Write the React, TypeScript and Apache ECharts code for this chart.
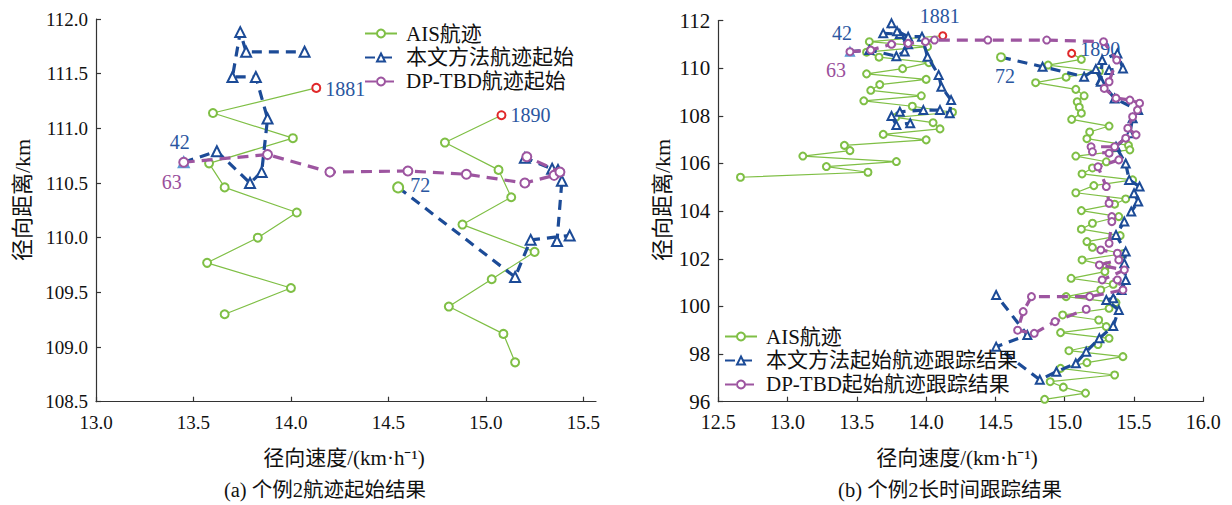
import React, { useEffect, useRef } from "react";
import * as echarts from "echarts";

const FONT = "'Liberation Serif', 'Noto Sans CJK SC', serif";
const GREEN = "#7fbf45";
const BLUE = "#1c4b97";
const LIGHT_BLUE = "#5b9bd5";
const PURPLE = "#9d55a0";
const RED = "#e0282a";
const LABEL_BLUE = "#2a56a0";
const LABEL_PURPLE = "#9a4f9c";

type P = [number, number];

// ---- (a) 个例2航迹起始结果 ----
const aisA1: P[] = [[14.13, 111.37], [13.6, 111.14], [14.01, 110.91], [13.58, 110.68], [13.66, 110.46], [14.03, 110.23], [13.83, 110.0], [13.57, 109.77], [14.0, 109.54], [13.66, 109.3]];
const aisA2: P[] = [[15.08, 111.12], [14.79, 110.87], [15.065, 110.62], [15.13, 110.37], [14.88, 110.12], [15.25, 109.87], [15.03, 109.62], [14.81, 109.37], [15.09, 109.12], [15.15, 108.86]];
const ourA1: P[] = [[13.45, 110.69], [13.62, 110.79], [13.79, 110.5], [13.85, 110.6], [13.88, 111.09], [13.82, 111.47], [13.7, 111.47], [13.74, 111.88], [13.77, 111.7], [14.07, 111.7]];
const ourA2: P[] = [[14.55, 110.46], [15.15, 109.64], [15.23, 109.98], [15.43, 110.02], [15.365, 109.97], [15.39, 110.52], [15.37, 110.62], [15.34, 110.63], [15.2, 110.73]];
const dpA: P[] = [[13.45, 110.69], [13.88, 110.76], [14.2, 110.6], [14.6, 110.61], [14.9, 110.58], [15.2, 110.5], [15.35, 110.57], [15.38, 110.6], [15.21, 110.74]];

// ---- (b) 个例2长时间跟踪结果 ----
const aisB1: P[] = [[14.12, 111.36], [13.59, 111.11], [14.01, 110.9], [13.57, 110.67], [13.66, 110.46], [14.02, 110.23], [13.83, 109.98], [13.57, 109.76], [14.0, 109.53], [13.665, 109.31], [13.6, 109.07], [13.965, 108.84], [13.55, 108.63], [13.9, 108.4], [14.19, 108.15], [13.78, 107.93], [14.05, 107.71], [14.1, 107.45], [13.69, 107.22], [14.0, 106.99], [13.41, 106.76], [13.45, 106.54], [13.11, 106.31], [13.785, 106.08], [13.28, 105.87], [13.58, 105.63], [12.66, 105.42]];
const aisB2: P[] = [[15.05, 110.62], [15.12, 110.37], [14.88, 110.13], [15.25, 109.87], [15.01, 109.62], [14.79, 109.39], [15.08, 109.11], [15.14, 108.84], [15.09, 108.59], [15.105, 108.36], [15.12, 108.11], [15.05, 107.85], [15.32, 107.57], [15.18, 107.32], [15.16, 107.04], [15.46, 106.76], [15.47, 106.57], [15.08, 106.31], [15.3, 106.07], [15.2, 105.81], [15.125, 105.56], [15.49, 105.31], [15.21, 105.07], [15.08, 104.77], [15.44, 104.51], [15.36, 104.29], [15.12, 104.02], [15.39, 103.77], [15.2, 103.49], [15.12, 103.24], [15.4, 102.97], [15.16, 102.72], [15.2, 102.48], [15.42, 102.21], [15.125, 101.95], [15.3, 101.7], [15.29, 101.46], [15.046, 101.18], [15.35, 100.93], [15.26, 100.69], [15.01, 100.41], [15.37, 100.16], [15.32, 99.92], [14.985, 99.64], [15.245, 99.43], [15.3, 99.15], [14.97, 98.9], [15.32, 98.66], [15.24, 98.4], [15.03, 98.14], [15.42, 97.89], [15.16, 97.64], [14.97, 97.4], [15.36, 97.12], [14.895, 96.84], [14.99, 96.61], [15.15, 96.36], [14.855, 96.1]];
const ourB1: P[] = [[13.45, 110.69], [13.59, 110.76], [13.785, 110.5], [13.845, 110.7], [13.87, 111.0], [13.81, 111.43], [13.69, 111.46], [13.75, 111.88], [13.79, 111.55], [13.87, 111.32], [13.97, 111.32], [14.01, 110.48], [14.09, 109.71], [14.11, 109.22], [14.18, 108.66], [14.17, 108.11], [14.1, 108.24], [13.98, 108.24], [13.81, 108.17], [13.75, 107.99], [13.785, 107.61], [13.885, 107.69]];
const ourB2: P[] = [[14.54, 110.46], [14.84, 110.06], [15.14, 109.64], [15.225, 109.96], [15.26, 109.5], [15.32, 109.92], [15.42, 109.99], [15.38, 110.62], [15.27, 110.34], [15.26, 109.43], [15.36, 108.73], [15.53, 108.24], [15.49, 107.9], [15.47, 107.27], [15.37, 106.7], [15.44, 106.0], [15.465, 105.31], [15.54, 105.03], [15.5, 104.75], [15.53, 104.4], [15.48, 103.98], [15.43, 103.56], [15.37, 103.0], [15.44, 102.3], [15.43, 101.81], [15.44, 101.11], [15.41, 100.69], [15.35, 100.34], [15.3, 100.27], [15.39, 99.85], [15.35, 99.18], [15.25, 98.66], [15.155, 98.1], [15.08, 97.61], [14.94, 97.26], [14.82, 96.92], [14.505, 98.31], [14.73, 98.8], [14.505, 100.48]];
const dpB: P[] = [[13.45, 110.69], [13.6, 110.76], [13.75, 111.0], [13.87, 111.04], [13.995, 111.11], [14.06, 111.18], [14.445, 111.18], [14.87, 111.18], [15.28, 111.11], [15.375, 110.34], [15.32, 109.43], [15.285, 109.15], [15.37, 108.74], [15.47, 108.66], [15.54, 108.53], [15.525, 108.24], [15.49, 107.96], [15.455, 107.48], [15.515, 107.2], [15.44, 107.06], [15.36, 106.7], [15.19, 106.7], [15.2, 106.49], [15.32, 106.43], [15.39, 106.15], [15.24, 105.86], [15.3, 105.03], [15.32, 104.33], [15.34, 103.77], [15.34, 103.56], [15.32, 102.65], [15.26, 102.37], [15.38, 102.23], [15.39, 101.95], [15.25, 101.74], [15.43, 101.53], [15.27, 101.11], [15.38, 101.11], [15.42, 100.69], [15.18, 100.41], [14.76, 100.41], [14.7, 99.78], [14.66, 99.0], [14.78, 98.87], [14.93, 99.36], [15.155, 99.88]];

const xTicksA = [13.0, 13.5, 14.0, 14.5, 15.0, 15.5];

const NAME_AIS = "AIS航迹";
const NAMES_A = [NAME_AIS, "本文方法航迹起始", "DP-TBD航迹起始"];
const NAMES_B = [NAME_AIS, "本文方法起始航迹跟踪结果", "DP-TBD起始航迹跟踪结果"];

const tag = (text: string, position: string, offset: number[], color = LABEL_BLUE) => ({
  show: true,
  formatter: text,
  position,
  offset,
  distance: 4,
  color,
  fontFamily: FONT,
  fontSize: 20,
});

type Extra = Record<number, any>;
const items = (pts: P[], extra: Extra = {}) =>
  pts.map((p, i) => ({ value: p, ...(extra[i] || {}) }));

const redEnd = (label: any) => ({
  itemStyle: { color: RED, borderColor: RED },
  label,
});

const aisSeries = (data: any[], gi: number, size: number) => ({
  name: NAME_AIS,
  type: "line",
  xAxisIndex: gi,
  yAxisIndex: gi,
  data,
  symbol: "emptyCircle",
  symbolSize: size,
  lineStyle: { color: GREEN, width: 1.2 },
  itemStyle: { color: GREEN, borderWidth: 1.2 },
  z: 2,
});

const ourSeries = (name: string, data: any[], gi: number, size: number) => ({
  name,
  type: "line",
  xAxisIndex: gi,
  yAxisIndex: gi,
  data,
  symbol: "emptyTriangle",
  symbolSize: size,
  lineStyle: { color: BLUE, width: 3.2, type: [10, 7] },
  itemStyle: { color: BLUE, borderWidth: 1.4 },
  z: 3,
});

const dpSeries = (name: string, data: any[], gi: number, size: number) => ({
  name,
  type: "line",
  xAxisIndex: gi,
  yAxisIndex: gi,
  data,
  symbol: "emptyCircle",
  symbolSize: size,
  lineStyle: { color: PURPLE, width: 3.2, type: [11, 7] },
  itemStyle: { color: PURPLE, borderWidth: 1.4 },
  z: 4,
});

const axisLine = { show: true, onZero: false, lineStyle: { color: "#333", width: 1.2 } };
const axisTick = { show: true, inside: true, length: 5, lineStyle: { color: "#333", width: 1.2 } };
const axisLabel = { color: "#111", fontFamily: FONT, fontSize: 19, margin: 8 };

const legendBase = {
  orient: "vertical",
  itemWidth: 32,
  itemHeight: 10,
  itemGap: 3,
  padding: 0,
  selectedMode: false,
  textStyle: { fontFamily: FONT, fontSize: 21, color: "#111", padding: [0, 0, 0, 4] },
};

const txt = (text: string, x: number, y: number, size: number, rotate = 0) => ({
  type: "text",
  x,
  y,
  rotation: rotate,
  style: {
    text,
    font: `${size}px ${FONT}`,
    fill: "#111",
    align: "center",
    verticalAlign: "middle",
    textAlign: "center",
    textVerticalAlign: "middle",
  },
});

export default function App() {
  const ref = useRef<HTMLDivElement>(null);

  useEffect(() => {
    document.body.style.margin = "0";
    if (!ref.current) return;
    const chart = echarts.init(ref.current, undefined, { renderer: "svg" });

    const option: any = {
      animation: false,
      backgroundColor: "#fff",
      grid: [
        { left: 96, top: 19, width: 500, height: 382.7 },
        { left: 718.3, top: 20.5, width: 485, height: 381.2 },
      ],
      xAxis: [
        {
          type: "value",
          gridIndex: 0,
          min: 13,
          max: 15.565,
          axisLine,
          axisTick: { ...axisTick, customValues: xTicksA },
          axisLabel: { ...axisLabel, margin: 11, customValues: xTicksA, formatter: (v: number) => v.toFixed(1) },
          splitLine: { show: false },
        },
        {
          type: "value",
          gridIndex: 1,
          min: 12.5,
          max: 16,
          interval: 0.5,
          axisLine,
          axisTick,
          axisLabel: { ...axisLabel, fontSize: 20, margin: 10, formatter: (v: number) => v.toFixed(1) },
          splitLine: { show: false },
        },
      ],
      yAxis: [
        {
          type: "value",
          gridIndex: 0,
          min: 108.5,
          max: 112,
          interval: 0.5,
          axisLine,
          axisTick,
          axisLabel: { ...axisLabel, formatter: (v: number) => v.toFixed(1) },
          splitLine: { show: false },
        },
        {
          type: "value",
          gridIndex: 1,
          min: 96,
          max: 112,
          interval: 2,
          axisLine,
          axisTick,
          axisLabel: { ...axisLabel, fontSize: 21 },
          splitLine: { show: false },
        },
      ],
      legend: [
        { ...legendBase, data: NAMES_A, left: 364, top: 23 },
        { ...legendBase, data: NAMES_B, left: 724, top: 326 },
      ],
      series: [
        // (a)
        aisSeries(items(aisA1, { 0: redEnd(tag("1881", "right", [0, 1])) }), 0, 8),
        aisSeries(items(aisA2, { 0: redEnd(tag("1890", "right", [0, 0])) }), 0, 8),
        ourSeries(NAMES_A[1], items(ourA1, { 0: { itemStyle: { color: LIGHT_BLUE }, label: tag("42", "top", [-4, 0]) } }), 0, 10),
        ourSeries(NAMES_A[1], items(ourA2, { 0: { symbol: "emptyCircle", itemStyle: { color: GREEN }, label: tag("72", "right", [2, -2]) } }), 0, 10),
        dpSeries(NAMES_A[2], items(dpA, { 0: { label: tag("63", "bottom", [-12, 0], LABEL_PURPLE) } }), 0, 9),
        // (b)
        aisSeries(items(aisB1, { 0: redEnd(tag("1881", "top", [-3, -1])) }), 1, 7),
        aisSeries(items(aisB2, { 0: redEnd(tag("1890", "right", [0, -4])) }), 1, 7),
        ourSeries(NAMES_B[1], items(ourB1, { 0: { itemStyle: { color: LIGHT_BLUE }, label: tag("42", "top", [-8, 0]) } }), 1, 8),
        ourSeries(NAMES_B[1], items(ourB2, { 0: { symbol: "emptyCircle", itemStyle: { color: GREEN }, label: tag("72", "bottom", [4, 0]) } }), 1, 8),
        dpSeries(NAMES_B[2], items(dpB, { 0: { label: tag("63", "bottom", [-14, 0], LABEL_PURPLE) } }), 1, 7),
      ],
      graphic: [
        txt("径向距离/km", 22, 200, 22, Math.PI / 2),
        txt("径向距离/km", 662, 200, 22, Math.PI / 2),
        txt("径向速度/(km·h⁻¹)", 344, 458, 21),
        txt("径向速度/(km·h⁻¹)", 957, 458, 21),
        txt("(a) 个例2航迹起始结果", 325, 490, 20.5),
        txt("(b) 个例2长时间跟踪结果", 950, 490, 20.5),
      ],
    };

    chart.setOption(option);
    return () => chart.dispose();
  }, []);

  return <div ref={ref} style={{ width: 1232, height: 505 }} />;
}
